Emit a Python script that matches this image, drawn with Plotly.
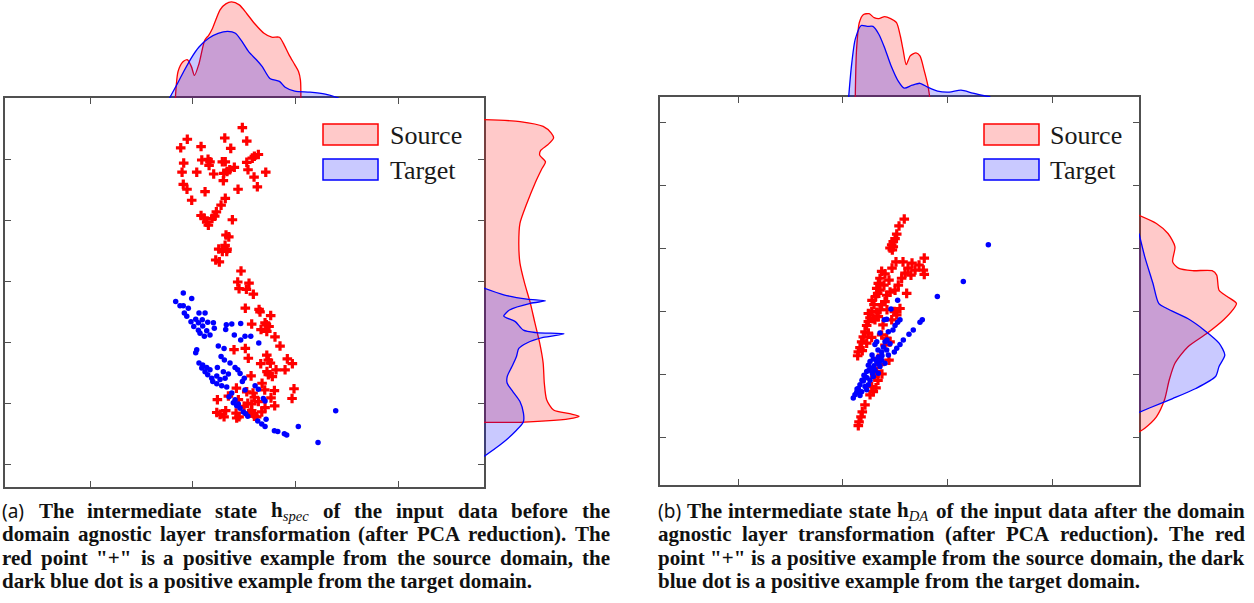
import plotly.graph_objects as go

# ---------------- DATA: panel (a)  (before domain-agnostic layer) ----------------
a_src_x = [14.83, 9.47, 13.12, 15.26, 8.83, 10.81, 13.70, 16.39, 16.00, 15.80, 9.12, 10.88, 11.49, 11.68, 11.59,
           12.88, 13.17, 15.26, 14.05, 13.60, 13.34, 13.02, 15.38, 8.96, 10.39, 12.04, 17.11, 15.97, 12.98, 9.08,
           9.44, 16.29, 14.41, 11.20, 9.90, 13.17, 12.76, 12.30, 12.14, 10.81, 11.10, 11.88, 13.86, 11.36, 11.52,
           13.24, 13.51, 13.15, 12.53, 13.34, 13.31, 12.88, 12.24, 12.59, 14.70,
           14.38, 15.48, 14.51, 15.22, 15.90, 15.12, 16.46, 16.55, 17.59, 17.04, 17.17, 15.74, 17.43, 16.65, 17.21,
           18.01, 18.50, 15.12, 14.02, 15.41, 17.21, 17.36, 16.62, 17.56, 19.21, 19.70, 18.99, 18.11, 17.23, 17.36,
           17.75, 15.68, 16.75, 17.01, 17.95, 19.86, 19.67, 14.25, 15.26, 12.40, 13.47, 15.87, 16.00, 16.39, 17.62,
           17.98, 17.04, 14.44, 15.36, 15.74, 12.34, 12.66, 13.21, 13.05, 14.22, 14.51, 14.28, 15.58, 16.00, 15.74,
           15.00, 16.72, 16.23]
a_src_y = [55.3, 53.4, 53.6, 53.1, 52.0, 52.2, 51.9, 50.9, 50.6, 50.3, 49.5, 50.0, 50.1, 49.7, 49.1,
           49.7, 49.7, 49.6, 48.8, 48.4, 48.1, 47.8, 48.4, 48.0, 48.0, 47.7, 48.0, 47.2, 46.6, 46.0,
           45.2, 45.6, 45.2, 44.8, 43.4, 43.7, 42.6, 41.5, 40.8, 40.9, 40.5, 40.4, 40.2, 39.8, 39.3,
           37.7, 37.4, 36.0, 35.4, 35.4, 35.0, 35.0, 33.6, 33.3, 31.8,
           30.0, 29.8, 28.9, 28.8, 28.0, 25.7, 25.5, 25.1, 24.5, 23.3, 23.0, 23.1, 22.7, 22.2, 21.9,
           21.0, 19.5, 19.1, 18.9, 17.5, 18.0, 17.2, 16.6, 16.7, 17.4, 16.6, 15.6, 15.6, 15.3, 14.8,
           14.5, 14.6, 13.4, 12.3, 12.2, 12.5, 10.9, 12.6, 12.0, 10.7, 11.3, 11.8, 11.1, 10.4, 11.0,
           9.7, 9.4, 10.7, 10.1, 10.0, 8.6, 8.3, 8.9, 7.9, 8.5, 7.9, 7.7, 8.5, 8.0, 8.9,
           9.6, 8.7, 7.9]
a_tgt_x = [9.08, 9.90, 8.34, 8.76, 9.08, 9.57, 9.18, 9.42, 10.61, 11.20, 9.83, 10.29, 10.55, 10.93, 11.46,
           12.01, 10.10, 10.55, 10.97, 11.36, 12.10, 11.68, 10.71, 11.13, 13.27, 13.80, 14.67, 13.21, 14.05, 15.09,
           15.65, 14.67, 16.43, 12.49, 13.05, 10.39, 10.29, 12.76, 13.08, 13.63, 14.12, 14.38, 14.61, 10.61, 10.97,
           10.88, 11.36, 11.68, 11.20, 12.40, 12.98, 13.47, 11.46, 11.85, 12.34, 12.66, 13.15, 11.95, 12.34, 12.82,
           13.31, 15.02, 14.83, 13.80, 13.53, 15.09, 16.07, 16.39, 16.87, 17.04, 13.95, 14.28, 14.61, 14.93, 15.16,
           15.36, 14.12, 14.44, 16.33, 16.72, 17.14, 17.04, 17.95, 18.28, 18.92, 19.15, 20.28, 23.92, 22.20]
a_tgt_y = [28.2, 27.3, 26.8, 26.1, 26.1, 25.7, 24.9, 24.4, 24.9, 24.9, 23.5, 23.9, 23.3, 23.8, 23.4,
           23.3, 22.7, 22.1, 22.8, 22.0, 22.4, 21.3, 21.6, 21.1, 23.0, 23.1, 23.2, 22.2, 21.3, 21.1,
           21.1, 20.5, 20.0, 19.5, 19.1, 18.9, 18.4, 17.8, 17.2, 16.7, 16.0, 15.6, 15.0, 16.7, 16.4,
           15.9, 16.0, 15.6, 15.3, 16.0, 15.3, 14.9, 14.8, 14.2, 14.6, 14.0, 14.2, 13.7, 13.3, 13.0,
           12.8, 14.2, 13.7, 11.8, 11.2, 12.3, 13.0, 12.4, 10.9, 10.5, 10.2, 9.7, 9.3, 8.7, 8.4,
           8.0, 10.7, 10.0, 7.2, 6.7, 7.5, 6.3, 5.6, 5.5, 5.1, 4.9, 6.3, 8.9, 3.7]

# marginal densities of panel (a)
a_top_src_x = [8.31, 8.57, 9.05, 9.49, 9.87, 10.17, 10.61, 11.17, 11.55, 11.92, 12.66, 13.22, 13.78, 14.53,
               15.27, 16.02, 16.94, 17.69, 18.44, 18.81, 19.38, 19.93, 20.30, 20.49, 20.53]
a_top_src_d = [0.0, 0.27, 0.37, 0.39, 0.32, 0.23, 0.35, 0.59, 0.64, 0.71, 0.90, 0.96, 0.98, 0.95,
               0.86, 0.76, 0.66, 0.62, 0.62, 0.56, 0.44, 0.34, 0.27, 0.18, 0.0]
a_top_tgt_x = [7.74, 8.37, 9.12, 9.87, 10.61, 11.55, 12.47, 13.41, 14.16, 14.71, 15.46, 16.20, 16.77, 17.51,
               18.44, 19.00, 19.93, 21.42, 22.91, 24.22]
a_top_tgt_d = [0.0, 0.12, 0.27, 0.41, 0.52, 0.61, 0.66, 0.68, 0.66, 0.59, 0.47, 0.39, 0.32, 0.20,
               0.17, 0.11, 0.07, 0.06, 0.04, 0.0]
a_side_src_y = [56.6, 56.3, 55.5, 54.4, 53.6, 52.5, 51.6, 50.8, 49.7, 48.6, 46.2, 42.9, 39.6, 36.3, 33.1,
                29.8, 26.5, 23.2, 20.0, 16.7, 13.4, 10.7, 9.0, 8.4, 8.0, 7.7, 7.3, 7.0, 7.0]
a_side_src_d = [0.0, 0.31, 0.51, 0.58, 0.60, 0.55, 0.49, 0.48, 0.53, 0.50, 0.44, 0.37, 0.31, 0.30, 0.31,
                0.35, 0.40, 0.44, 0.48, 0.51, 0.52, 0.54, 0.60, 0.74, 0.82, 0.77, 0.60, 0.31, 0.0]
a_side_tgt_y = [29.0, 27.9, 27.2, 26.9, 26.5, 25.4, 24.4, 24.0, 23.5, 22.1, 21.7, 21.5, 20.9, 20.0, 19.1,
                17.8, 16.1, 14.5, 13.4, 12.0, 10.4, 8.5, 7.1, 5.7, 3.3, 1.4]
a_side_tgt_d = [0.0, 0.17, 0.37, 0.53, 0.40, 0.22, 0.17, 0.21, 0.27, 0.34, 0.45, 0.69, 0.51, 0.37, 0.30,
                0.28, 0.24, 0.20, 0.20, 0.25, 0.31, 0.34, 0.34, 0.28, 0.14, 0.0]

# ---------------- DATA: panel (b)  (after domain-agnostic layer) ----------------
b_src_x = [15.88, 15.38, 15.16, 15.00, 14.83, 14.68, 14.52, 14.83, 14.74, 17.79, 17.29, 17.70, 17.79, 16.91, 16.52,
           15.95, 15.63, 13.72, 14.04, 13.56, 13.40, 13.25, 13.34, 13.15, 15.31, 15.00, 14.52, 14.20, 16.11, 14.04,
           13.72, 13.56, 13.25, 12.77, 12.45, 15.47, 14.93, 12.92, 12.45, 12.29, 13.08, 13.40, 15.16, 14.68, 12.13,
           12.45, 11.97, 12.77, 11.81, 12.29, 11.65, 11.49, 11.87, 11.43, 13.72, 14.20, 14.52, 14.04, 13.40, 13.56,
           13.25, 13.08, 12.77, 12.92, 12.61, 12.13, 11.87, 11.75, 11.56, 11.49,
           12.80, 12.99, 12.61, 13.85, 14.23, 13.56, 13.94, 14.42, 14.71, 15.09, 15.76, 16.24, 16.62, 13.37, 13.18,
           13.75, 14.42]
b_src_y = [34.6, 33.5, 32.2, 31.5, 31.0, 30.5, 30.0, 30.2, 29.7, 28.4, 27.3, 26.5, 25.8, 26.5, 25.7,
           26.0, 25.2, 26.3, 25.9, 25.2, 24.4, 23.6, 22.8, 22.3, 24.1, 23.3, 23.0, 22.5, 22.8, 21.5,
           21.0, 20.2, 19.8, 19.9, 19.6, 20.4, 19.9, 18.8, 18.3, 17.7, 18.6, 19.1, 19.4, 18.6, 16.7,
           16.5, 15.9, 15.8, 15.1, 14.9, 14.2, 13.5, 13.7, 12.9, 16.2, 15.7, 15.1, 14.6, 12.5, 11.5,
           10.4, 9.6, 8.0, 7.2, 6.7, 5.1, 4.0, 3.2, 2.4, 1.8,
           21.7, 21.0, 18.9, 17.8, 20.2, 23.3, 24.1, 24.9, 26.8, 27.8, 27.8, 26.8, 27.6, 9.0, 7.8,
           10.0, 12.2]
b_tgt_x = [23.91, 21.52, 19.04, 15.25, 14.61, 17.60, 17.38, 16.74, 16.33, 15.79, 15.47, 15.16, 14.93, 14.20, 13.97,
           15.47, 15.25, 15.00, 13.56, 14.36, 13.25, 13.08, 14.04, 13.88, 13.72, 14.20, 14.36, 13.40, 12.92, 12.61,
           12.45, 13.25, 13.72, 14.04, 13.56, 12.77, 12.29, 12.13, 11.97, 13.08, 13.40, 12.92, 12.61, 11.65, 11.49,
           11.34, 11.17, 11.01, 12.13, 11.81, 11.65, 12.45, 12.29, 12.83,
           14.52, 13.37, 12.80, 12.51, 12.03, 11.84, 11.46, 12.32, 12.99, 13.75, 14.23, 14.80, 13.47, 11.37]
b_tgt_y = [30.5, 24.7, 22.3, 21.7, 20.3, 18.6, 18.2, 17.0, 16.3, 15.4, 14.7, 14.1, 13.5, 18.7, 18.6,
           18.6, 18.2, 17.7, 16.5, 16.7, 15.1, 14.7, 15.1, 14.3, 13.5, 13.8, 13.0, 12.7, 12.4, 12.0,
           11.4, 12.0, 12.2, 11.7, 11.2, 10.9, 10.4, 9.6, 8.9, 10.6, 10.1, 9.6, 9.0, 8.3, 7.7,
           7.1, 6.7, 6.2, 8.0, 7.2, 6.6, 8.3, 7.5, 10.1,
           14.8, 13.8, 13.0, 10.6, 9.8, 9.0, 7.1, 9.4, 11.3, 12.9, 15.4, 17.0, 11.6, 7.6]

b_top_src_x = [11.20, 11.32, 11.59, 11.96, 12.52, 13.00, 13.45, 14.01, 14.58, 15.14, 15.51, 15.77, 16.07,
               16.45, 17.00, 17.38, 17.76, 18.13, 18.31]
b_top_src_d = [0.0, 0.48, 0.76, 0.84, 0.85, 0.81, 0.80, 0.82, 0.80, 0.76, 0.62, 0.48, 0.33,
               0.42, 0.45, 0.42, 0.28, 0.12, 0.0]
b_top_tgt_x = [10.57, 10.83, 11.20, 11.77, 12.33, 12.89, 13.45, 14.01, 14.58, 15.32, 15.88, 16.63, 17.38,
               18.13, 19.06, 20.18, 21.30, 22.43, 24.11]
b_top_tgt_d = [0.0, 0.31, 0.59, 0.73, 0.72, 0.72, 0.64, 0.50, 0.33, 0.16, 0.09, 0.12, 0.14,
               0.10, 0.06, 0.05, 0.07, 0.04, 0.0]
b_side_src_y = [35.2, 33.9, 32.3, 30.2, 27.8, 26.8, 26.4, 26.4, 25.7, 23.3, 22.3, 21.2, 20.2, 18.6, 16.5,
                14.3, 11.7, 9.0, 5.9, 3.2, 1.4, 0.8]
b_side_src_d = [0.0, 0.15, 0.25, 0.31, 0.29, 0.34, 0.46, 0.63, 0.67, 0.69, 0.76, 0.84, 0.81, 0.73, 0.59,
                0.42, 0.31, 0.26, 0.22, 0.15, 0.05, 0.0]
b_side_tgt_y = [32.3, 28.6, 24.4, 21.2, 20.4, 18.8, 17.0, 14.9, 13.0, 11.2, 9.6, 7.7, 6.1, 4.6, 3.9]
b_side_tgt_d = [0.0, 0.05, 0.12, 0.17, 0.24, 0.42, 0.56, 0.69, 0.74, 0.69, 0.66, 0.49, 0.29, 0.09, 0.0]

# axis ticks (no labels shown in the figure)
x_ticks = [0, 10, 20, 30]
y_ticks = [0, 10, 20, 30, 40, 50]

legend_names = ["Source", "Target"]

caption_a = [
    "(a) The intermediate state h_spec of the input data before the",
    "domain agnostic layer transformation (after PCA reduction). The",
    'red point "+" is a positive example from the source domain, the',
    "dark blue dot is a positive example from the target domain.",
]
caption_b = [
    "(b) The intermediate state h_DA of the input data after the domain",
    "agnostic layer transformation (after PCA reduction). The red",
    'point "+" is a positive example from the source domain, the dark',
    "blue dot is a positive example from the target domain.",
]

# ---------------- STYLE / LAYOUT ----------------
W, H = 1254, 603
SRC, TGT = "#ff0000", "#0000ff"
SRC_FILL, TGT_FILL = "rgba(255,0,0,0.21)", "rgba(0,0,255,0.21)"
BOX = "#505050"


def fx(p):
    return p / W


def fy(p):
    return 1 - p / H


panels = [
    dict(l=5, r=484, t=98, b=487, xr=[-8.28, 38.36], yr=[-3.61, 60.16], ax=("x", "y", "x2", "y2", "x3", "y3"),
         data=(a_src_x, a_src_y, a_tgt_x, a_tgt_y, a_top_src_x, a_top_src_d, a_top_tgt_x, a_top_tgt_d,
               a_side_src_y, a_side_src_d, a_side_tgt_y, a_side_tgt_d)),
    dict(l=660, r=1139, t=97, b=485, xr=[-7.45, 38.3], yr=[-7.62, 53.97], ax=("x4", "y4", "x5", "y5", "x6", "y6"),
         data=(b_src_x, b_src_y, b_tgt_x, b_tgt_y, b_top_src_x, b_top_src_d, b_top_tgt_x, b_top_tgt_d,
               b_side_src_y, b_side_src_d, b_side_tgt_y, b_side_tgt_d)),
]

fig = go.Figure()
layout = dict(width=W, height=H, margin=dict(l=0, r=0, t=0, b=0), paper_bgcolor="white",
              plot_bgcolor="white", showlegend=False, font=dict(family="Liberation Serif", color="#111"))

SIDE_W = 116
for P in panels:
    (sx, sy, tx, ty, tsx, tsd, ttx, ttd, ssy, ssd, sty, std) = P["data"]
    xa, ya, xt, yt, xs, ys = P["ax"]
    line_kw = dict(shape="spline", smoothing=0.7, width=1.3)
    fig.add_trace(go.Scatter(x=tsx, y=tsd, xaxis=xt, yaxis=yt, mode="lines", fill="tozeroy",
                             fillcolor=SRC_FILL, line=dict(color=SRC, **line_kw), hoverinfo="skip"))
    fig.add_trace(go.Scatter(x=ttx, y=ttd, xaxis=xt, yaxis=yt, mode="lines", fill="tozeroy",
                             fillcolor=TGT_FILL, line=dict(color=TGT, **line_kw), hoverinfo="skip"))
    fig.add_trace(go.Scatter(x=ssd, y=ssy, xaxis=xs, yaxis=ys, mode="lines", fill="tozerox",
                             fillcolor=SRC_FILL, line=dict(color=SRC, **line_kw), hoverinfo="skip"))
    fig.add_trace(go.Scatter(x=std, y=sty, xaxis=xs, yaxis=ys, mode="lines", fill="tozerox",
                             fillcolor=TGT_FILL, line=dict(color=TGT, **line_kw), hoverinfo="skip"))
    fig.add_trace(go.Scatter(x=sx, y=sy, xaxis=xa, yaxis=ya, mode="markers",
                             marker=dict(symbol="cross", size=8, color=SRC, line=dict(width=0)), name="Source"))
    fig.add_trace(go.Scatter(x=tx, y=ty, xaxis=xa, yaxis=ya, mode="markers",
                             marker=dict(symbol="circle", size=5.5, color=TGT, line=dict(width=0)), name="Target"))

    xd = [fx(P["l"]), fx(P["r"])]
    yd = [fy(P["b"]), fy(P["t"])]
    box_axis = dict(showline=True, linecolor=BOX, linewidth=1.7, mirror="ticks", ticks="inside",
                    ticklen=6, tickwidth=1.3, tickcolor=BOX, showticklabels=False, showgrid=False,
                    zeroline=False)
    name = lambda a: ("xaxis" if a[0] == "x" else "yaxis") + a[1:]
    layout[name(xa)] = dict(domain=xd, range=P["xr"], tickvals=x_ticks, anchor=ya, **box_axis)
    layout[name(ya)] = dict(domain=yd, range=P["yr"], tickvals=y_ticks, anchor=xa, **box_axis)
    layout[name(xt)] = dict(domain=xd, range=P["xr"], visible=False, anchor=yt)
    layout[name(yt)] = dict(domain=[fy(P["t"]), 1.0], range=[0, P["t"] / 98.0], visible=False, anchor=xt)
    side_end = min(P["r"] + SIDE_W, W)
    layout[name(xs)] = dict(domain=[fx(P["r"]), fx(side_end)], range=[0, (side_end - P["r"]) / SIDE_W],
                            visible=False, anchor=ys)
    layout[name(ys)] = dict(domain=yd, range=P["yr"], visible=False, anchor=xs)

fig.update_layout(**layout)

# ---------------- legends (drawn boxes) ----------------
legend_pos = [(323, 390), (984, 1050)]
for (bx, tx0) in legend_pos:
    for k, (nm, col, fcol) in enumerate(zip(legend_names, [SRC, TGT], [SRC_FILL, TGT_FILL])):
        top = 124 + 35 * k
        fig.add_shape(type="rect", xref="paper", yref="paper", x0=fx(bx), x1=fx(bx + 55),
                      y0=fy(top + 21), y1=fy(top), fillcolor=fcol, line=dict(color=col, width=1.5))
        fig.add_annotation(xref="paper", yref="paper", x=fx(tx0), y=fy(top + 11), text=nm,
                           showarrow=False, xanchor="left", yanchor="middle", borderpad=0, borderwidth=0,
                           font=dict(family="Liberation Serif", size=26, color="#1a1a1a"))

# ---------------- captions (justified, word by word) ----------------
FS = 21
TB = {' ': 250, '"': 555, '(': 333, ')': 333, '+': 570, ',': 250, '.': 250, 'A': 722, 'C': 722, 'D': 722,
      'P': 611, 'T': 667, 'a': 500, 'b': 556, 'c': 444, 'd': 556, 'e': 444, 'f': 333, 'g': 500, 'h': 556,
      'i': 278, 'k': 556, 'l': 278, 'm': 833, 'n': 556, 'o': 500, 'p': 556, 'r': 444, 's': 389, 't': 333,
      'u': 556, 'v': 500, 'w': 722, 'x': 500, 'y': 500}
SANS_FS = 19


def word_html(w):
    if w in ("(a)", "(b)"):
        return w, 1.2 * SANS_FS, "Noto Sans"
    if w.startswith("h_"):
        sub = w[2:]
        wd = (556 + 0.7 * sum(TB.get(c, 500) for c in sub)) / 1000 * FS
        return "<b>h</b><sub><i>%s</i></sub>" % sub, wd, "Liberation Serif"
    return "<b>%s</b>" % w, sum(TB.get(c, 500) for c in w) / 1000 * FS, "Liberation Serif"


def add_caption(lines, x0, x1, y0, dy):
    for li, line in enumerate(lines):
        words = line.split(" ")
        parts = [word_html(w) for w in words]
        justify = li < len(lines) - 1
        total = sum(p[1] for p in parts)
        gap = (x1 - x0 - total) / (len(parts) - 1) if justify else 0.25 * FS
        x = x0
        yc = y0 + li * dy
        for i, (html, wd, fam) in enumerate(parts):
            last = justify and i == len(parts) - 1
            fig.add_annotation(xref="paper", yref="paper", x=fx(x1 if last else x), y=fy(yc), text=html,
                               showarrow=False, xanchor="right" if last else "left", yanchor="middle",
                               borderpad=0, borderwidth=0,
                               font=dict(family=fam, size=FS if fam != "Noto Sans" else SANS_FS, color="#111"))
            x += wd + gap


add_caption(caption_a, 2, 610, 511, 23.3)
add_caption(caption_b, 658, 1245, 511, 23.3)

fig.write_html("out.html", config={"displayModeBar": False})

# remove the browser's default page margin so the figure sits at (0, 0)
with open("out.html", "r", encoding="utf-8") as f:
    html = f.read()
html = html.replace("<body>", '<body style="margin:0;padding:0;overflow:hidden;">', 1)
with open("out.html", "w", encoding="utf-8") as f:
    f.write(html)
